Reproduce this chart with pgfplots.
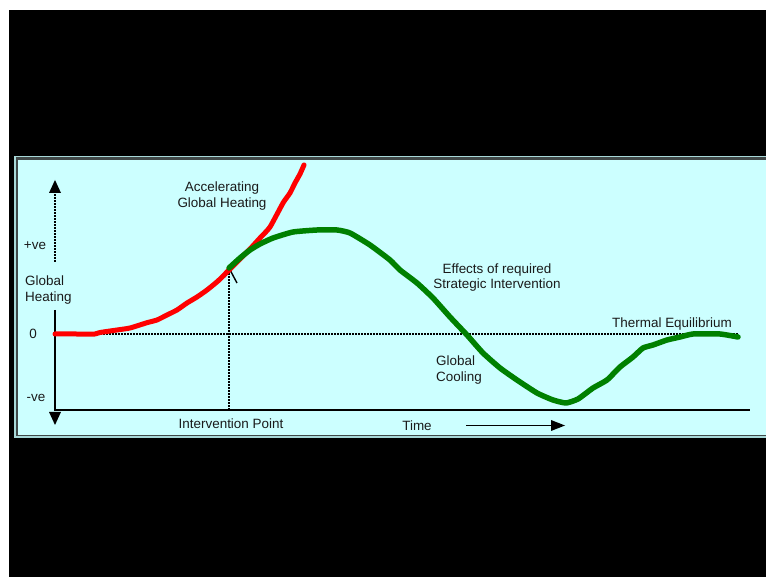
\documentclass[border=0pt]{standalone}
\usepackage{pgfplots}
\pgfplotsset{compat=1.18}
\usepackage{fontspec}
\setmainfont{Liberation Sans}
\definecolor{panel}{HTML}{CCFFFF}
\definecolor{edgeL}{HTML}{A8D8D8}
\definecolor{edgeD}{HTML}{404848}
\definecolor{curvegreen}{HTML}{008000}
\definecolor{txt}{HTML}{1A1A1A}
\begin{document}
\begin{tikzpicture}[lbl/.style={font=\fontsize{13.5}{16}\selectfont,text=txt,inner sep=0pt}]
\begin{axis}[width=766bp,height=577bp,scale only axis,
  xmin=0,xmax=766,ymin=0,ymax=577,hide axis,clip=false]
% background
\fill[white] (axis cs:0,0) rectangle (axis cs:766,577);
\fill[black] (axis cs:9,0) rectangle (axis cs:766,567);
\fill[edgeL] (axis cs:14,139) rectangle (axis cs:766,421);
\fill[edgeD] (axis cs:16,140.5) rectangle (axis cs:766,419.5);
\fill[panel] (axis cs:18,142) rectangle (axis cs:766,417);
% axes and guide lines
\draw[black,line width=1.3bp,dash pattern=on 1.6bp off 1.4bp] (axis cs:55,243) -- (axis cs:738,243);
\draw[black,line width=1.5bp] (axis cs:55,167) -- (axis cs:750,167);
\draw[black,line width=1.3bp,dash pattern=on 1.6bp off 1.4bp] (axis cs:55,315) -- (axis cs:55,385);
\draw[black,line width=1.5bp] (axis cs:55,267) -- (axis cs:55,166);
\fill[black] (axis cs:55,397) -- (axis cs:49,384) -- (axis cs:61,384) -- cycle;
\fill[black] (axis cs:55,152) -- (axis cs:49,165) -- (axis cs:61,165) -- cycle;
\draw[black,line width=1.3bp,dash pattern=on 1.6bp off 1.4bp] (axis cs:229,167) -- (axis cs:229,307);
\draw[black,line width=1.4bp] (axis cs:225,300) -- (axis cs:229,309) -- (axis cs:237,294);
\draw[black,line width=1.5bp] (axis cs:466,151.5) -- (axis cs:553,151.5);
\fill[black] (axis cs:565,151.5) -- (axis cs:551,157) -- (axis cs:551,146) -- cycle;
% curves
\addplot[red,line width=5bp,line join=round,line cap=round,smooth,tension=0.3] coordinates {
(55,243) (75,243) (95,243) (100,244.5) (117,247) (130,249) (147,254.3)
(157,257) (167,262) (177,267) (187,274) (197,280) (207,287) (218,296)
(229,307) (240,318) (250,328) (260,339) (270,350) (283,374) (290,384)
(295,394) (300,403) (304,412)};
\addplot[curvegreen,line width=5.5bp,line join=round,line cap=round,smooth,tension=0.3] coordinates {
(229,309) (240,319) (250,327) (260,333) (273,339) (293,345) (317,347)
(337,347) (350,344) (370,332) (390,317) (400,307) (417,294) (433,279)
(450,260) (467,242) (483,224) (500,209) (517,197) (537,184) (553,177)
(566,174) (578,178) (593,189) (607,197) (620,210) (633,220) (643,229)
(653,232) (667,237) (680,240) (693,243) (720,243) (738,240)};
% labels
\node[lbl] at (axis cs:35,331) {+ve};
\node[lbl,anchor=west,align=left] at (axis cs:25,287) {Global\\Heating};
\node[lbl] at (axis cs:33,243) {0};
\node[lbl] at (axis cs:36,179) {-ve};
\node[lbl,align=center] at (axis cs:222,381) {Accelerating\\Global Heating};
\node[lbl] at (axis cs:231,153) {Intervention Point};
\node[lbl] at (axis cs:417,151) {Time};
\node[lbl,align=center] at (axis cs:497,299.5) {Effects of required\\Strategic Intervention};
\node[lbl,anchor=west,align=left] at (axis cs:436,207) {Global\\Cooling};
\node[lbl] at (axis cs:672,253) {Thermal Equilibrium};
\end{axis}
\end{tikzpicture}
\end{document}
